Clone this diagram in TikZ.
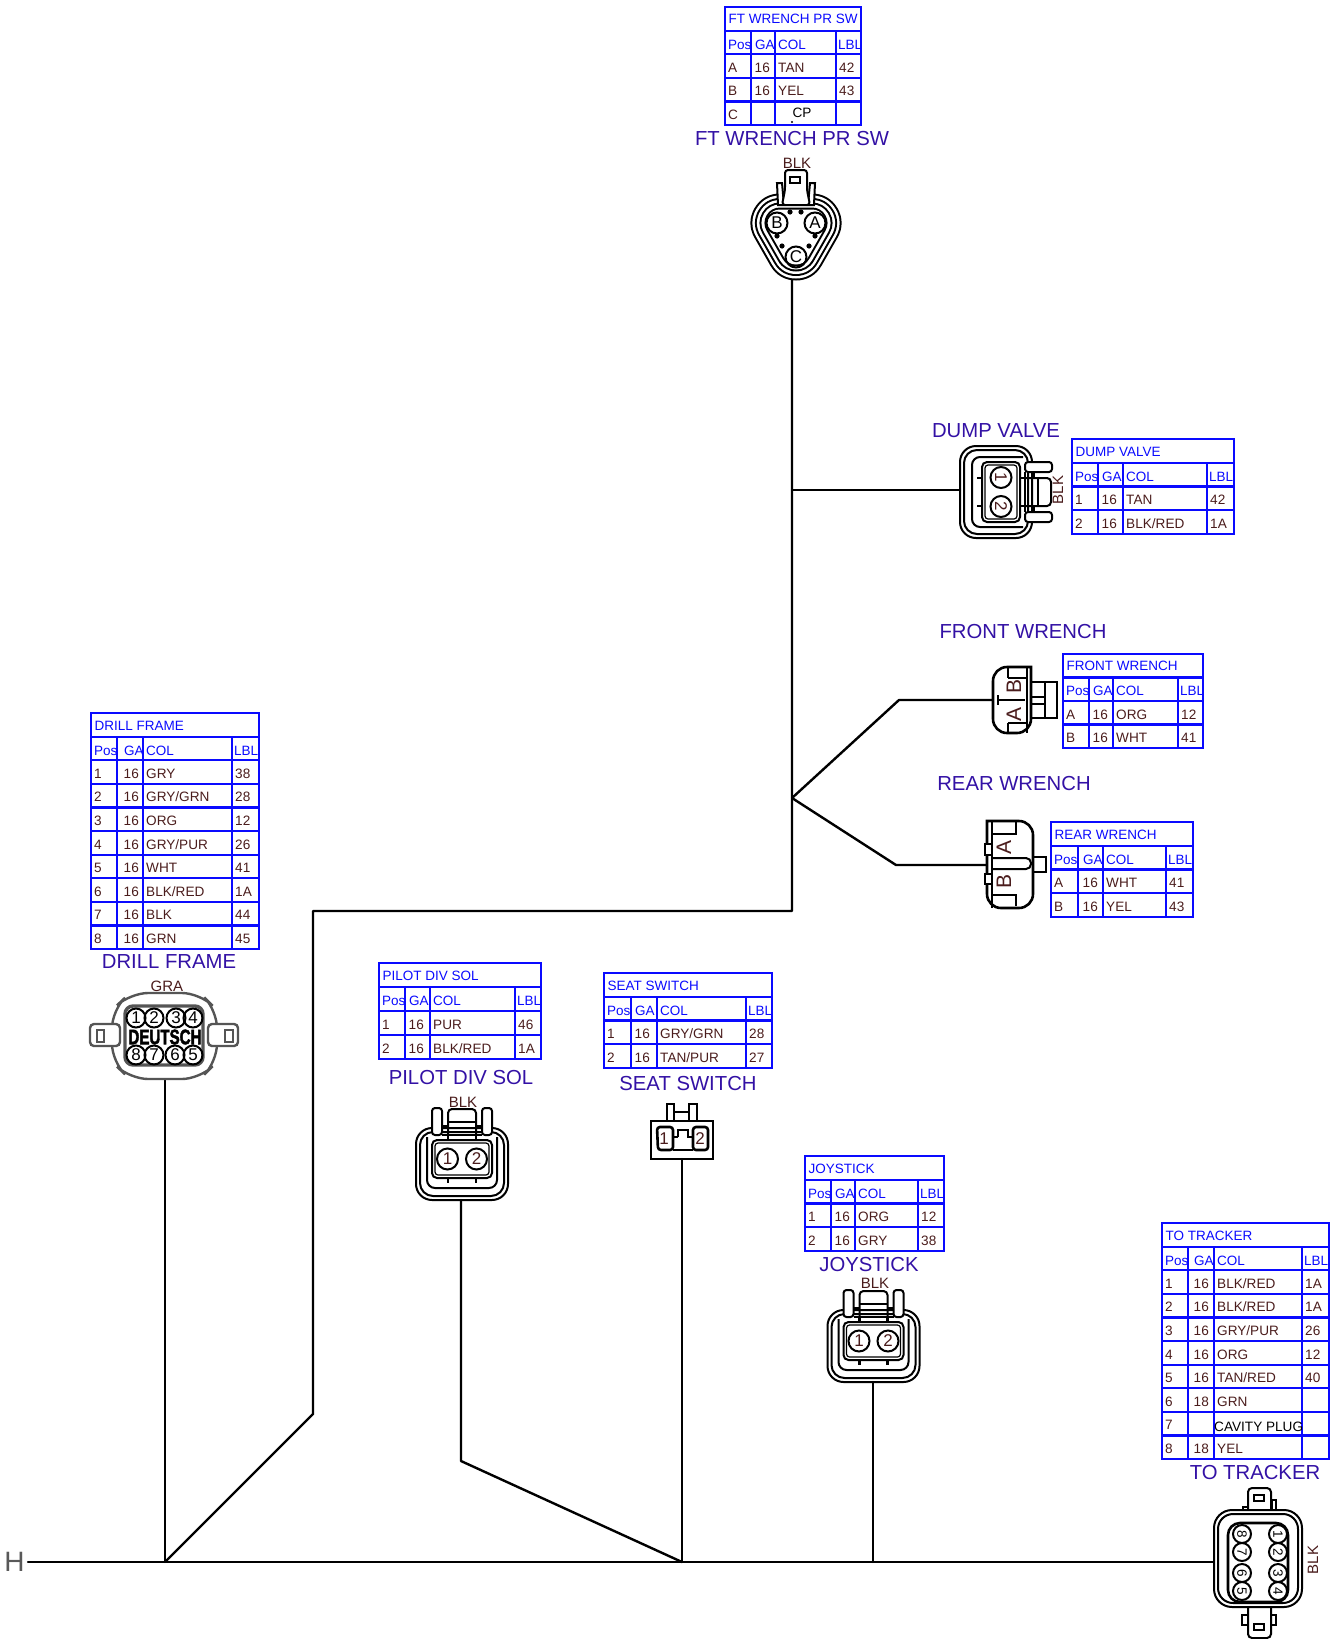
\documentclass[tikz,border=0pt]{standalone}
\usepackage{fontspec}
\setmainfont{Liberation Sans}
\definecolor{tblue}{HTML}{0A0AFF}
\definecolor{tttl}{HTML}{3311A5}
\definecolor{tbrn}{HTML}{4A1C1C}
\definecolor{cgry}{HTML}{555555}
\tikzset{
  wire/.style={line width=2.4pt,black,line cap=round,line join=round},
  cb/.style={line width=2pt,black},
  cbh/.style={line width=2.6pt,black},
  cbt/.style={line width=1.2pt,black},
  gb/.style={line width=2.4pt,cgry},
  tbl/.style={line width=2.2pt,tblue},
  hd/.style={inner sep=0pt,anchor=base west,text=tblue,font=\fontsize{13.5}{14}\selectfont},
  dat/.style={inner sep=0pt,anchor=base west,text=tbrn,font=\fontsize{13.6}{14}\selectfont},
  blk/.style={inner sep=0pt,anchor=base west,text=black,font=\fontsize{13.6}{14}\selectfont},
  ttl/.style={inner sep=0pt,text=tttl,font=\fontsize{20.3}{21}\selectfont},
  lab/.style={inner sep=0pt,text=tbrn,font=\fontsize{15}{15}\selectfont},
  pin/.style={inner sep=0pt,text=tbrn,font=\fontsize{17}{17}\selectfont},
  big/.style={lab,rotate=90,font=\fontsize{21}{21}\selectfont},
}
% id, x0/x1/x2/x3/x4, ytop/rowh/gaoffset, title, rows
\newcommand\conntable[5]{%
 \foreach \xa/\xb/\xc/\xd/\xe in {#2}{\foreach \yt/\rh/\ga in {#3}{%
  \draw[tbl] (\xa,\yt) rectangle (\xe,\yt+\rh);
  \node[hd] (#1title) at (\xa+3.5,\yt+0.72*\rh) {#4};
  \pgfmathsetmacro\yh{\yt+\rh}
  \draw[tbl] (\xa,\yh) rectangle (\xb,\yh+\rh) (\xb,\yh) rectangle (\xc,\yh+\rh) (\xc,\yh) rectangle (\xd,\yh+\rh) (\xd,\yh) rectangle (\xe,\yh+\rh);
  \node[hd] (#1hp) at (\xa+3,\yh+0.78*\rh) {Pos};
  \node[hd] (#1hg) at (\xb+\ga,\yh+0.78*\rh) {GA};
  \node[hd] (#1hc) at (\xc+3,\yh+0.78*\rh) {COL};
  \node[hd] (#1hl) at (\xd+2,\yh+0.78*\rh) {LBL};
  \foreach \p/\g/\c/\l [count=\i] in {#5}{%
   \pgfmathsetmacro\yr{\yt+(\i+1)*\rh}
   \draw[tbl] (\xa,\yr) rectangle (\xb,\yr+\rh) (\xb,\yr) rectangle (\xc,\yr+\rh) (\xc,\yr) rectangle (\xd,\yr+\rh) (\xd,\yr) rectangle (\xe,\yr+\rh);
   \node[dat] (#1p\i) at (\xa+3,\yr+0.77*\rh) {\p};
   \node[dat] (#1g\i) at (\xb+\ga-0.5,\yr+0.77*\rh) {\g};
   \node[dat] (#1c\i) at (\xc+3,\yr+0.77*\rh) {\c};
   \node[dat] (#1l\i) at (\xd+3,\yr+0.77*\rh) {\l};
  }
 }}%
}
% id, cx, cy, rotation
\newcommand\twopin[4]{%
 \begin{scope}[shift={(#2,#3)},rotate=#4]
  \draw[cb,rounded corners=16] (-46,-31) rectangle (46,41);
  \draw[cb,rounded corners=13] (-42,-27) rectangle (42,37);
  \draw[cb,rounded corners=8] (-35,-22) -- (-35,29) -- (35,29) -- (35,-22);
  \draw[cb,rounded corners=5,fill=white] (-30,-19) rectangle (30,19);
  \draw[cbt,rounded corners=3] (-27,-16) rectangle (27,16);
  \draw[cbh] (-14,-24) -- (-14,-19) (14,-24) -- (14,-19) (-14,19) -- (-14,24) (14,19) -- (14,24);
  \draw[cb,fill=white,rounded corners=3] (-30,-24) -- (-30,-51) -- (-20,-51) -- (-20,-24) -- cycle;
  \draw[cb,fill=white,rounded corners=3] (20,-24) -- (20,-51) -- (30,-51) -- (30,-24) -- cycle;
  \draw[cb,rounded corners=4] (-14,-24) -- (-14,-50) -- (14,-50) -- (14,-24);
  \draw[cb] (-14,-37) -- (14,-37) (-20,-24) -- (20,-24);
  \draw[cbt] (-20,-33) -- (-14,-33) (14,-33) -- (20,-33);
  \node[pin,draw,cb,circle,minimum size=21pt,text=tbrn,rotate=#4] (#1a) at (-14.5,0) {1};
  \node[pin,draw,cb,circle,minimum size=21pt,text=tbrn,rotate=#4] (#1b) at (14.5,0) {2};
 \end{scope}%
}
\begin{document}
\begin{tikzpicture}[x=1pt,y=-1pt]
\useasboundingbox (0,0) rectangle (1331,1639);

% --- tables
\conntable{ft}{725/751/775/836/861}{7/23.6/4}{FT WRENCH PR SW}{A/16/TAN/42,B/16/YEL/43,C///}
\conntable{dv}{1072/1098/1123/1207/1234}{439/23.75/4}{DUMP VALVE}{1/16/TAN/42,2/16/BLK\slash RED/1A}
\conntable{fw}{1063/1089/1113/1178/1203}{654/23.5/4}{FRONT WRENCH}{A/16/ORG/12,B/16/WHT/41}
\conntable{rw}{1051/1078/1103/1166/1193}{822/23.75/5}{REAR WRENCH}{A/16/WHT/41,B/16/YEL/43}
\conntable{df}{91/117/143/232/259}{713/23.6/7}{DRILL FRAME}{1/16/GRY/38,2/16/GRY\slash GRN/28,3/16/ORG/12,4/16/GRY\slash PUR/26,5/16/WHT/41,6/16/BLK\slash RED/1A,7/16/BLK/44,8/16/GRN/45}
\conntable{pd}{379/405/430/515/541}{963/24/4}{PILOT DIV SOL}{1/16/PUR/46,2/16/BLK\slash RED/1A}
\conntable{ss}{604/631/657/746/772}{973/23.75/4}{SEAT SWITCH}{1/16/GRY\slash GRN/28,2/16/TAN\slash PUR/27}
\conntable{js}{805/831/855/918/944}{1156/23.75/4}{JOYSTICK}{1/16/ORG/12,2/16/GRY/38}
\conntable{tt}{1162/1188/1214/1302/1329}{1223/23.6/6}{TO TRACKER}{1/16/BLK\slash RED/1A,2/16/BLK\slash RED/1A,3/16/GRY\slash PUR/26,4/16/ORG/12,5/16/TAN\slash RED/40,6/18/GRN/,7///,8/18/YEL/}
\node[blk,anchor=center] (cpt) at (802,113) {CP};
\fill (792,122) circle (1.2pt);
\node[blk] (cav) at (1214,1431) {CAVITY PLUG};

% --- titles
\node[ttl] (tft) at (792,139) {FT WRENCH PR SW};
\node[ttl] (tdv) at (996,431) {DUMP VALVE};
\node[ttl] (tfw) at (1023,632) {FRONT WRENCH};
\node[ttl] (trw) at (1014,784) {REAR WRENCH};
\node[ttl] (tdf) at (169,962) {DRILL FRAME};
\node[ttl] (tpd) at (461,1077) {PILOT DIV SOL};
\node[ttl] (tss) at (688,1083) {SEAT SWITCH};
\node[ttl] (tjs) at (869,1264) {JOYSTICK};
\node[ttl] (ttt) at (1255,1472) {TO TRACKER};

% --- wire end points
\coordinate (ftw) at (792,278);
\coordinate (dvw) at (960,490);
\coordinate (fwj) at (899,700);
\coordinate (fww) at (993,700);
\coordinate (rwj) at (896,865);
\coordinate (rww) at (987,865);
\coordinate (brk) at (792,798);
\coordinate (dvj) at (792,490);
\coordinate (cor) at (792,911);
\coordinate (cor2) at (313,911);
\coordinate (cor3) at (313,1414);
\coordinate (mj1) at (165,1562);
\coordinate (dfw) at (165,1080);
\coordinate (pdw) at (461,1200);
\coordinate (pdb) at (461,1461);
\coordinate (mj2) at (682,1562);
\coordinate (ssw) at (682,1159);
\coordinate (jsw) at (873,1382);
\coordinate (mj3) at (873,1562);
\coordinate (mst) at (28,1562);
\coordinate (men) at (1214,1562);

\draw[wire] (ftw) -- (cor) -- (cor2) -- (cor3) -- (mj1);
\draw[wire] (dvj) -- (dvw);
\draw[wire] (brk) -- (fwj) -- (fww);
\draw[wire] (brk) -- (rwj) -- (rww);
\draw[wire] (dfw) -- (mj1);
\draw[wire] (pdw) -- (pdb) -- (mj2);
\draw[wire] (ssw) -- (mj2);
\draw[wire] (jsw) -- (mj3);
\draw[wire] (mst) -- (men);
\node[inner sep=0pt,font=\fontsize{28}{28}\selectfont,text=black!65] (hl) at (14.5,1562) {H};

% --- FT WRENCH connector
\foreach \w/\c in {59/black,55/white,50/black,46/white,41/black,37/white,31/black,27/white}
  \draw[line width=\w pt,\c,line join=round] (780,223) -- (812,223) -- (796,251) -- cycle;
\fill[white] (780,223) -- (812,223) -- (796,251) -- cycle;
\draw[cb,fill=white] (777,183) -- (782,183) -- (784,205) -- (778,205) -- cycle;
\draw[cb,fill=white] (810,183) -- (815,183) -- (814,205) -- (808,205) -- cycle;
\draw[cb,fill=white,rounded corners=3] (785,190) -- (785,170) -- (807,170) -- (807,190) -- (810,205) -- (782,205) -- cycle;
\draw[cb] (790,177) rectangle (800,183);
\foreach \x/\y in {790/212,801/212,777/236,815/236,782/246,809/246} \fill (\x,\y) circle (2.6pt);
\node[pin,draw,cb,circle,minimum size=21pt] (ftb) at (777,223) {B};
\node[pin,draw,cb,circle,minimum size=21pt] (fta) at (815,223) {A};
\node[pin,draw,cb,circle,minimum size=21pt] (ftc) at (796,257) {C};
\node[lab] (lft) at (797,163) {BLK};

% --- two-pin connectors
\twopin{dv}{1001}{492}{-90}
\node[lab,rotate=90] (ldv) at (1058,490) {BLK};
\twopin{pd}{462}{1159}{0}
\node[lab] (lpd) at (463,1102) {BLK};
\twopin{js}{873.5}{1341}{0}
\node[lab] (ljs) at (875,1283) {BLK};

% --- FRONT WRENCH connector
\draw[cbh] (1031,682) -- (1057,682) -- (1057,718) -- (1031,718);
\draw[cbh] (1045,682) -- (1045,718);
\draw[cb] (1031,697) -- (1045,697) (1031,704) -- (1045,704);
\draw[cbh,rounded corners=14,fill=white] (1031,667) -- (993,667) -- (993,733) -- (1031,733) [sharp corners] -- cycle;
\draw[cb] (1027,667) -- (1027,733);
\draw[cb] (1008,678) -- (1027,678) (1008,667) -- (1008,678);
\draw[cb] (1008,723) -- (1027,723) (1008,723) -- (1008,733);
\draw[cbh] (999,700) -- (1025,700);
\draw[cb] (998,695) -- (998,705);
\node[big] (fwb) at (1014,686) {B};
\node[big] (fwa) at (1014,714) {A};

% --- REAR WRENCH connector
\draw[cbh] (1033,857) -- (1046,857) -- (1046,872) -- (1033,872);
\draw[cbh,rounded corners=14,fill=white] (987,821) -- (1033,821) -- (1033,908) -- (987,908) [sharp corners] -- cycle;
\draw[cb] (992,821) -- (992,908);
\draw[cb,fill=white] (985,844) rectangle (992,855) (985,874) rectangle (992,884);
\draw[cb] (992,834) -- (1016,834) -- (1016,822);
\draw[cb] (992,895) -- (1016,895) -- (1016,906);
\draw[cb,rounded corners=5] (992,858) -- (1031,858) -- (1031,869) -- (992,869);
\node[big] (rwa) at (1004,847) {A};
\node[big] (rwb) at (1004,881) {B};

% --- SEAT SWITCH connector
\draw[cbh] (667,1121) -- (667,1104) -- (674,1104) -- (674,1121) (689,1121) -- (689,1104) -- (697,1104) -- (697,1121) (674,1112) -- (689,1112);
\draw[cbh] (651,1121) rectangle (713,1159);
\draw[cbh,rounded corners=3] (673,1150) -- (658,1150) -- (657,1127) -- (673,1127) -- cycle;
\draw[cbh,rounded corners=3] (693,1150) -- (708,1150) -- (708,1127) -- (693,1127) -- cycle;
\draw[cb] (673,1150) -- (693,1150) (678,1137) -- (673,1137) (693,1137) -- (688,1137) -- (688,1130) -- (678,1130) -- (678,1137);
\node[pin] (ss1) at (664,1139) {1};
\node[pin] (ss2) at (700,1139) {2};

% --- DRILL FRAME connector
\draw[gb,rounded corners=18,fill=white] (112,1010) -- (130,993) -- (200,993) -- (217,1010) -- (217,1062) -- (200,1079) -- (130,1079) -- (112,1062) -- cycle;
\draw[gb,rounded corners=4,fill=white] (120,1024) -- (90,1024) -- (90,1046) -- (120,1046) -- cycle;
\draw[gb] (97,1030) rectangle (104,1042);
\draw[gb,rounded corners=4,fill=white] (208,1024) -- (238,1024) -- (238,1046) -- (208,1046) -- cycle;
\draw[gb] (225,1030) rectangle (233,1042);
\draw[gb,line width=3.4pt,rounded corners=8] (125,1006) rectangle (203,1065);
\foreach \n/\x/\y in {1/136/1018,2/154/1018,3/176/1018,4/193/1018,8/136/1055,7/154/1055,6/175/1055,5/193/1055}
  \node[pin,draw,cb,circle,minimum size=19pt,font=\fontsize{17}{17}\selectfont] (dfp\n) at (\x,\y) {\n};
\node[inner sep=0pt,text=black,font=\fontsize{21}{21}\bfseries\selectfont\addfontfeature{FakeBold=2.5},xscale=.72,transform shape] (dfn) at (165,1037) {DEUTSCH};
\node[lab] (ldf) at (167,986) {GRA};

% --- TO TRACKER connector
\draw[cb,fill=white,rounded corners=4] (1248,1510) -- (1248,1488) -- (1271,1488) -- (1271,1510);
\draw[cb] (1254,1495) rectangle (1264,1501);
\draw[cb] (1272,1510) -- (1272,1500) -- (1276,1500) -- (1276,1510) (1243,1512) -- (1243,1507) -- (1248,1507);
\draw[cb,fill=white,rounded corners=4] (1248,1607) -- (1248,1638) -- (1271,1638) -- (1271,1607);
\draw[cb] (1254,1624) rectangle (1264,1630);
\draw[cb] (1248,1615) -- (1242,1615) -- (1242,1625) -- (1248,1625) (1271,1615) -- (1276,1615) -- (1276,1625) -- (1271,1625);
\draw[cb,rounded corners=18,fill=white] (1214,1510) rectangle (1302,1607);
\draw[cb,rounded corners=15] (1218,1514) rectangle (1298,1603);
\draw[cbh,rounded corners=12] (1228,1523) rectangle (1288,1602);
\foreach \n/\x/\y in {8/1242/1534,7/1242/1552,6/1242/1573,5/1242/1591,1/1278/1534,2/1278/1552,3/1278/1573,4/1278/1591}
  \node[pin,draw,cb,circle,minimum size=18pt,font=\fontsize{13.5}{13.5}\selectfont,rotate=-90] (ttp\n) at (\x,\y) {\n};
\node[lab,rotate=90] (ltt) at (1313,1560) {BLK};
\end{tikzpicture}
\end{document}
